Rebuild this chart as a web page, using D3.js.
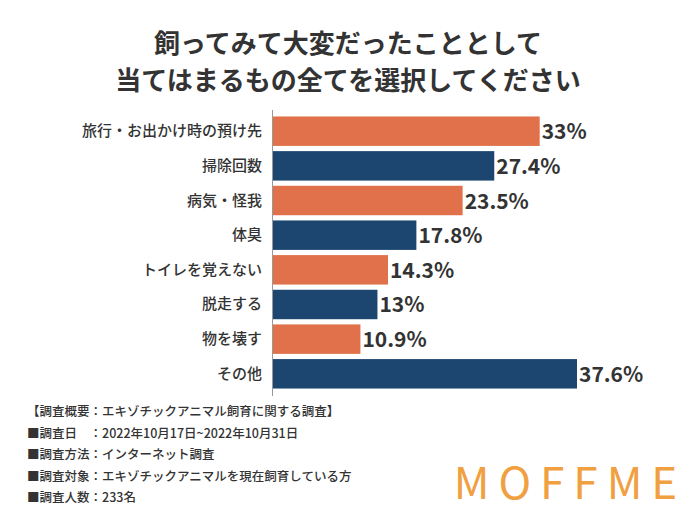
<!DOCTYPE html><html><head><meta charset="utf-8"><script src="https://cdn.jsdelivr.net/npm/d3@7"></script>
<style>body{margin:0;background:#fff}text{font-family:"Noto Sans CJK JP",sans-serif}</style></head><body><svg id="c" width="696" height="522"></svg><script>
const categories=["旅行・お出かけ時の預け先","掃除回数","病気・怪我","体臭","トイレを覚えない","脱走する","物を壊す","その他"];
const values=[33,27.4,23.5,17.8,14.3,13,10.9,37.6];
const labels=["33%","27.4%","23.5%","17.8%","14.3%","13%","10.9%","37.6%"];
const colors=["#E0714A","#1C4670"];
const notes=["【調査概要：エキゾチックアニマル飼育に関する調査】","■調査日　：2022年10月17日~2022年10月31日","■調査方法：インターネット調査","■調査対象：エキゾチックアニマルを現在飼育している方","■調査人数：233名"];
const svg=d3.select("#c");
svg.append("text").attr("x",348).attr("y",53).attr("text-anchor","middle").attr("font-size",26).attr("font-weight","bold").attr("fill","#333").text("飼ってみて大変だったこととして");
svg.append("text").attr("x",348).attr("y",90).attr("text-anchor","middle").attr("font-size",26).attr("font-weight","bold").attr("fill","#333").text("当てはまるもの全てを選択してください");
const x=d3.scaleLinear().domain([0,37.6]).range([272,577]);
const y=d3.scaleBand().domain(categories).range([113,392]).paddingInner(0.15).paddingOuter(0.1);
svg.selectAll("rect.b").data(values).join("rect").attr("x",x(0)).attr("y",(d,i)=>y(categories[i])).attr("width",d=>x(d)-x(0)).attr("height",y.bandwidth()).attr("fill",(d,i)=>colors[i%2]);
svg.selectAll("text.v").data(values).join("text").attr("x",d=>x(d)+2).attr("y",(d,i)=>y(categories[i])+y.bandwidth()/2+8).attr("font-size",21).attr("font-weight","bold").attr("fill","#333").text((d,i)=>labels[i]);
svg.selectAll("text.c").data(categories).join("text").attr("x",262).attr("y",d=>y(d)+y.bandwidth()/2+5).attr("text-anchor","end").attr("font-size",15).attr("font-weight",500).attr("fill","#333").text(d=>d);
svg.append("line").attr("x1",272.5).attr("x2",272.5).attr("y1",110).attr("y2",396).attr("stroke","#999");
svg.selectAll("text.n").data(notes).join("text").attr("x",27).attr("y",(d,i)=>416+i*21.5).attr("font-size",12.5).attr("font-weight",500).attr("fill","#333").text(d=>d);
svg.append("text").attr("x",570).attr("y",499).attr("text-anchor","middle").attr("font-size",44).attr("letter-spacing",9).attr("font-family","Lato").attr("font-weight",400).attr("fill","#F0A040").text("MOFFME");
</script></body></html>
